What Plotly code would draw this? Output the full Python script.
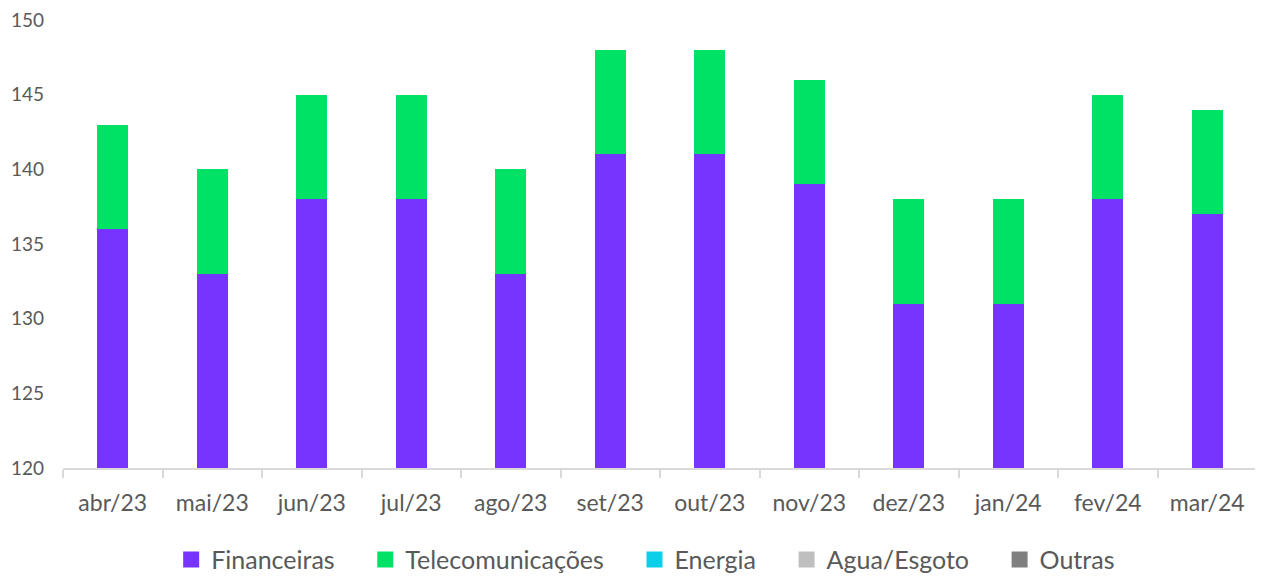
import plotly.graph_objects as go

categories = ["abr/23", "mai/23", "jun/23", "jul/23", "ago/23", "set/23",
              "out/23", "nov/23", "dez/23", "jan/24", "fev/24", "mar/24"]
financeiras = [136, 133, 138, 138, 133, 141, 141, 139, 131, 131, 138, 137]
telecom = [7, 7, 7, 7, 7, 7, 7, 7, 7, 7, 7, 7]
energia = [0] * 12
agua = [0] * 12
outras = [0] * 12
y_ticks = [120, 125, 130, 135, 140, 145, 150]

series = [
    ("Financeiras", financeiras, "#7733ff"),
    ("Telecomunicações", telecom, "#00e266"),
    ("Energia", energia, "#0bd0e8"),
    ("Agua/Esgoto", agua, "#bfbfbf"),
    ("Outras", outras, "#7f7f7f"),
]

fig = go.Figure()
for name, vals, color in series:
    fig.add_trace(go.Bar(x=categories, y=vals, name=name, marker_color=color,
                         marker_line_width=0, showlegend=False, legendgroup=name))
# legend entries with larger square swatches
pad = "\u00a0" * 4
for i, (name, vals, color) in enumerate(series):
    label = name + (pad if i < len(series) - 1 else "")
    fig.add_trace(go.Scatter(x=[None], y=[None], mode="markers", name=label,
                             legendgroup=name,
                             marker=dict(symbol="square", size=17, color=color)))

font_family = "Lato, 'Open Sans', sans-serif"
fig.update_layout(
    barmode="stack",
    bargap=0.69,
    width=1255, height=570,
    margin=dict(l=55, r=6, t=12, b=110, autoexpand=False),
    plot_bgcolor="white", paper_bgcolor="white",
    font=dict(family=font_family, color="#595959", size=19),
    legend=dict(orientation="h", x=0.488, xanchor="center", y=-0.205, yanchor="middle",
                font=dict(size=25, color="#595959"), itemwidth=30,
                traceorder="normal"),
    xaxis=dict(showline=True, linecolor="#d9d9d9", linewidth=1.5, automargin=False,
               ticks="outside", tickson="boundaries", ticklen=8, tickcolor="#d9d9d9",
               tickwidth=1.5, tickfont=dict(size=23, color="#595959"),
               ticklabelstandoff=14, range=[-0.5, 11.5], ticklabeloverflow="allow"),
    yaxis=dict(range=[120, 150], tickmode="array", tickvals=y_ticks,
               showgrid=False, zeroline=False, ticklabeloverflow="allow",
               showline=False, tickfont=dict(size=19, color="#595959"),
               ticklabelstandoff=18, automargin=False),
)

fig.write_html("out.html")
